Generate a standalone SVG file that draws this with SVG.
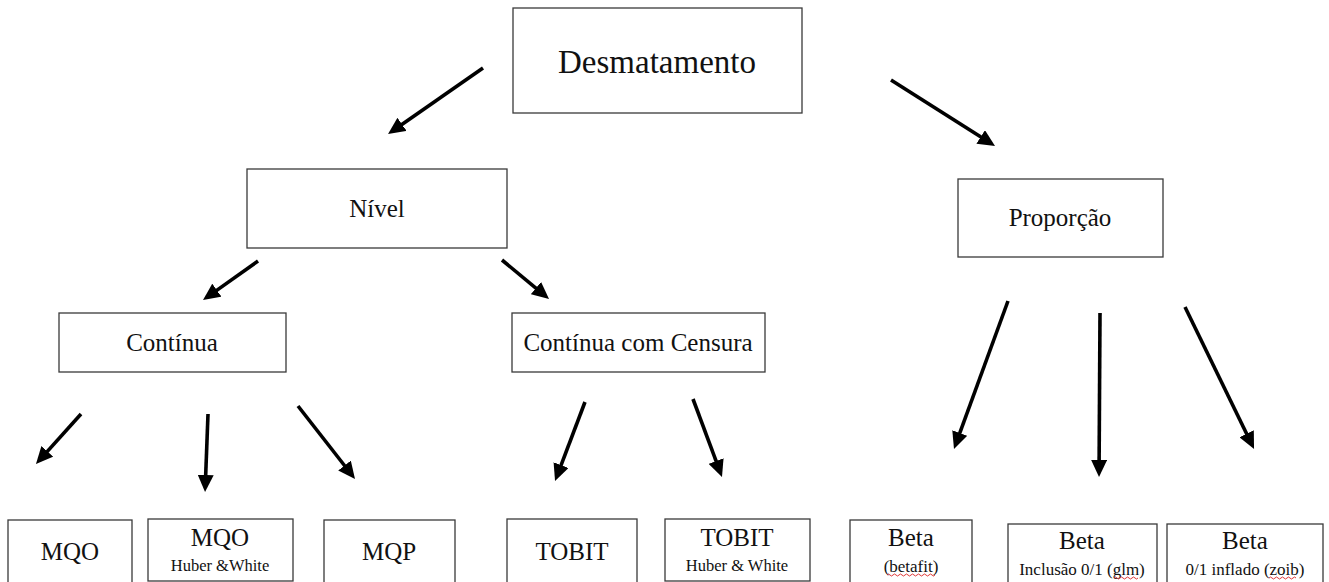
<svg xmlns="http://www.w3.org/2000/svg" width="1329" height="582" viewBox="0 0 1329 582">
<defs>
<style>
.box{fill:#fff;stroke:#3a3a3a;stroke-width:1.3}
.t{font-family:"Liberation Serif","Times New Roman",serif;fill:#111;text-anchor:middle}
.big{font-size:33px}
.mid{font-size:25px}
.sm{font-size:16.5px}
.sub{font-size:17px}
.arr{stroke:#000;stroke-width:3.6;fill:none;marker-end:url(#ah)}
.sq{stroke:#d22;stroke-width:0.9;fill:none}
</style>
<marker id="ah" markerUnits="userSpaceOnUse" markerWidth="18" markerHeight="16" viewBox="0 0 18 16" refX="5" refY="8" orient="auto">
<path d="M0,0 L17,8 L0,16 Z" fill="#000"/>
</marker>
</defs>
<rect width="1329" height="582" fill="#fff"/>
<g id="connectors">
<line class="arr" x1="483" y1="68" x2="397.9" y2="127.2"/>
<line class="arr" x1="891" y1="80" x2="984.9" y2="139.6"/>
<line class="arr" x1="258" y1="261" x2="212.8" y2="293.1"/>
<line class="arr" x1="502" y1="260" x2="539.8" y2="291.3"/>
<line class="arr" x1="81" y1="414" x2="44" y2="455.1"/>
<line class="arr" x1="208" y1="414" x2="205.5" y2="480"/>
<line class="arr" x1="298" y1="406" x2="347.6" y2="469.5"/>
<line class="arr" x1="585" y1="402" x2="559.3" y2="469.8"/>
<line class="arr" x1="693" y1="399" x2="717.8" y2="465.7"/>
<line class="arr" x1="1008" y1="301" x2="958.1" y2="437.7"/>
<line class="arr" x1="1100" y1="313" x2="1099.1" y2="465"/>
<line class="arr" x1="1185" y1="307" x2="1248.8" y2="438.2"/>
</g>
<g id="desmatamento"><rect class="box" x="513" y="8" width="289" height="105"/><text class="t big" x="657" y="73">Desmatamento</text></g>
<g id="nivel"><rect class="box" x="247" y="169" width="260" height="79"/><text class="t mid" x="377" y="217">Nível</text></g>
<g id="proporcao"><rect class="box" x="958" y="179" width="205" height="78"/><text class="t mid" x="1060" y="226">Proporção</text></g>
<g id="continua"><rect class="box" x="59" y="313" width="227" height="59"/><text class="t mid" x="172" y="351">Contínua</text></g>
<g id="continua-censura"><rect class="box" x="512" y="313" width="253" height="59"/><text class="t mid" x="638" y="351">Contínua com Censura</text></g>
<g id="mqo"><rect class="box" x="8" y="520" width="124" height="70"/><text class="t mid" x="70" y="560">MQO</text></g>
<g id="mqo-hw"><rect class="box" x="148" y="519" width="145" height="62"/><text class="t mid" x="220" y="546">MQO</text><text class="t sm" x="220" y="571">Huber &amp;White</text></g>
<g id="mqp"><rect class="box" x="324" y="520" width="131" height="70"/><text class="t mid" x="389" y="560">MQP</text></g>
<g id="tobit"><rect class="box" x="507" y="519" width="130" height="70"/><text class="t mid" x="572" y="560">TOBIT</text></g>
<g id="tobit-hw"><rect class="box" x="665" y="519" width="145" height="62"/><text class="t mid" x="737" y="546">TOBIT</text><text class="t sm" x="737" y="571">Huber &amp; White</text></g>
<g id="beta-betafit"><rect class="box" x="850" y="520" width="122" height="70"/><text class="t mid" x="911" y="546">Beta</text><text class="t sub" x="911" y="572">(betafit)</text>
<path class="sq" d="M887,575 q1.5,-2 3,0 t3,0 t3,0 t3,0 t3,0 t3,0 t3,0 t3,0 t3,0 t3,0 t3,0 t3,0 t3,0 t3,0 t3,0 t3,0"/></g>
<g id="beta-glm"><rect class="box" x="1008" y="524" width="149" height="70"/><text class="t mid" x="1082" y="549">Beta</text><text class="t sub" x="1082" y="575">Inclusão 0/1 (glm)</text>
<path class="sq" d="M1114,578 q1.5,-2 3,0 t3,0 t3,0 t3,0 t3,0 t3,0 t3,0 t3,0"/></g>
<g id="beta-zoib"><rect class="box" x="1167" y="524" width="156" height="70"/><text class="t mid" x="1245" y="549">Beta</text><text class="t sub" x="1245" y="575">0/1 inflado (zoib)</text>
<path class="sq" d="M1269,578 q1.5,-2 3,0 t3,0 t3,0 t3,0 t3,0 t3,0 t3,0 t3,0 t3,0"/></g>
</svg>
